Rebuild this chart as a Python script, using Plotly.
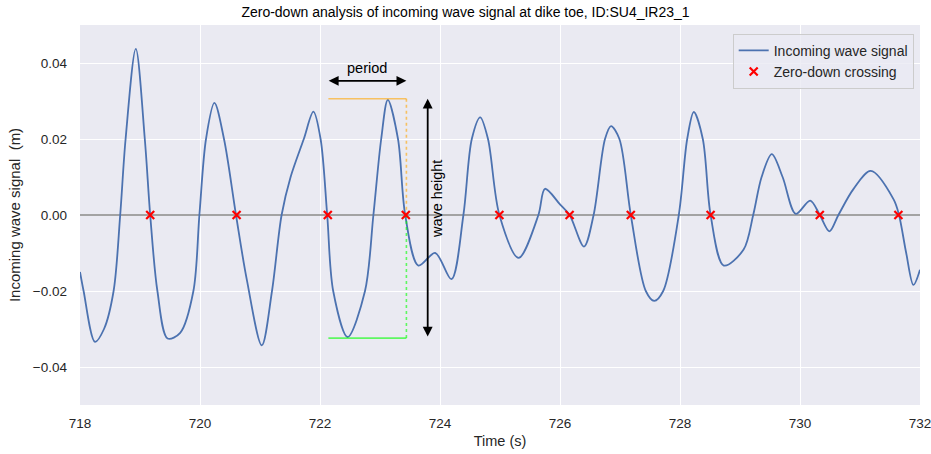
import plotly.graph_objects as go

# ---- data ----
time_s = [718.00, 718.06, 718.25, 718.40, 718.56, 718.67, 718.76, 718.93, 719.08, 719.17,
          719.29, 719.46, 719.67, 719.89, 719.99, 720.10, 720.24, 720.40, 720.60, 720.78,
          721.03, 721.20, 721.36, 721.51, 721.73, 721.89, 722.01, 722.12, 722.22,
          722.46, 722.75, 722.89, 723.02, 723.13, 723.30, 723.42, 723.64, 723.92, 724.19,
          724.39, 724.53, 724.67, 724.80, 724.99, 725.31, 725.64, 725.75, 726.00, 726.16,
          726.40, 726.56, 726.75, 726.85, 726.99, 727.18, 727.43, 727.57, 727.72, 727.98,
          728.12, 728.23, 728.38, 728.51, 728.73, 729.06, 729.22, 729.36, 729.53, 729.71,
          729.93, 730.17, 730.33, 730.49, 730.64, 730.89, 731.18, 731.56, 731.65, 731.77,
          731.89, 732.00]
signal_m = [-0.0150, -0.0200, -0.0334, -0.0300, -0.0200, 0.0000, 0.0200, 0.0437, 0.0200, 0.0000,
            -0.0200, -0.0325, -0.0310, -0.0200, 0.0000, 0.0200, 0.0295, 0.0200, 0.0000, -0.0170,
            -0.0343, -0.0200, 0.0000, 0.0100, 0.0200, 0.0272, 0.0200, 0.0000, -0.0200,
            -0.0321, -0.0200, 0.0000, 0.0200, 0.0303, 0.0200, 0.0000, -0.0133, -0.0100, -0.0169,
            0.0000, 0.0200, 0.0257, 0.0200, 0.0000, -0.0113, 0.0000, 0.0069, 0.0028, 0.0000,
            -0.0083, 0.0000, 0.0200, 0.0234, 0.0200, 0.0000, -0.0200, -0.0226, -0.0200, 0.0000,
            0.0200, 0.0271, 0.0200, 0.0000, -0.0133, -0.0091, 0.0000, 0.0100, 0.0160, 0.0100,
            0.0003, 0.0038, 0.0000, -0.0043, 0.0000, 0.0068, 0.0116, 0.0041, 0.0000, -0.0100,
            -0.0184, -0.0144]

crossing_t = [719.17, 720.61, 722.13, 723.43, 724.99, 726.16, 727.18, 728.51, 730.33, 731.64]
crossing_y = [0.0] * len(crossing_t)

# highlighted wave (between crossings 3 and 4)
wave_start = 722.14
wave_end = 723.44
wave_crest = 0.0306
wave_trough = -0.0324

x_ticks = [718, 720, 722, 724, 726, 728, 730, 732]
y_ticks = [-0.04, -0.02, 0.0, 0.02, 0.04]
x_range = [718, 732]
y_range = [-0.05, 0.05]

TXT = "#262626"
FONT = "Liberation Sans, Arial, sans-serif"
W, H = 931, 454

fig = go.Figure()

# zero line
fig.add_trace(go.Scatter(x=x_range, y=[0, 0], mode="lines",
                         line=dict(color="#A3A3A3", width=1.8),
                         showlegend=False, hoverinfo="skip"))

# signal
fig.add_trace(go.Scatter(x=time_s, y=signal_m, mode="lines", name="Incoming wave signal",
                         line=dict(color="#4C72B0", width=1.8, shape="spline", smoothing=0.9)))

# crest / trough guide lines
fig.add_trace(go.Scatter(x=[wave_start, wave_end], y=[wave_crest, wave_crest], mode="lines",
                         line=dict(color="rgba(255,165,0,0.6)", width=1.6),
                         showlegend=False, hoverinfo="skip"))
fig.add_trace(go.Scatter(x=[wave_start, wave_end], y=[wave_trough, wave_trough], mode="lines",
                         line=dict(color="rgba(0,255,0,0.6)", width=1.6),
                         showlegend=False, hoverinfo="skip"))
fig.add_trace(go.Scatter(x=[wave_end, wave_end], y=[wave_crest, 0], mode="lines",
                         line=dict(color="rgba(255,165,0,0.6)", width=1.6, dash="dot"),
                         showlegend=False, hoverinfo="skip"))
fig.add_trace(go.Scatter(x=[wave_end, wave_end], y=[0, wave_trough], mode="lines",
                         line=dict(color="rgba(0,255,0,0.6)", width=1.6, dash="dot"),
                         showlegend=False, hoverinfo="skip"))

# crossings
fig.add_trace(go.Scatter(x=crossing_t, y=crossing_y, mode="markers", name="Zero-down crossing",
                         marker=dict(symbol="x-thin", size=8, color="red",
                                     line=dict(color="red", width=2.2))))

# period arrow (double)
period_y = 0.0353
fig.add_annotation(x=wave_end, y=period_y, ax=wave_start - 0.02, ay=period_y,
                   xref="x", yref="y", axref="x", ayref="y", text="",
                   showarrow=True, arrowhead=2, arrowside="end+start",
                   arrowsize=1.1, arrowwidth=1.8, arrowcolor="black")
fig.add_annotation(x=(wave_start + wave_end) / 2, y=0.0388, xref="x", yref="y",
                   text="period", showarrow=False,
                   font=dict(family=FONT, size=14.5, color="black"))

# wave height arrow (double)
height_x = 723.795
fig.add_annotation(x=height_x, y=wave_crest, ax=height_x, ay=wave_trough,
                   xref="x", yref="y", axref="x", ayref="y", text="",
                   showarrow=True, arrowhead=2, arrowside="end+start",
                   arrowsize=1.1, arrowwidth=1.8, arrowcolor="black")
fig.add_annotation(x=723.96, y=0.0041, xref="x", yref="y", text="wave height",
                   showarrow=False, textangle=-90,
                   font=dict(family=FONT, size=14.5, color="black"))

fig.update_layout(
    width=W, height=H,
    margin=dict(l=80, r=11, t=25, b=49, autoexpand=False),
    paper_bgcolor="white", plot_bgcolor="#EAEAF2",
    font=dict(family=FONT, size=12, color=TXT),
    title=dict(text="Zero-down analysis of incoming wave signal at dike toe, ID:SU4_IR23_1",
               x=0.5, xanchor="center", xref="container", yref="container",
               y=1 - 12 / H, yanchor="middle", automargin=False,
               font=dict(family=FONT, size=14, color="black")),
    showlegend=True,
    legend=dict(x=0.9925, xanchor="right", y=0.977, yanchor="top",
                bgcolor="rgba(234,234,242,0.8)", bordercolor="#CCCCCC", borderwidth=1,
                font=dict(family=FONT, size=14, color=TXT),
                tracegroupgap=0, itemwidth=30),
)

fig.update_xaxes(range=x_range, tickvals=x_ticks, ticktext=[str(v) for v in x_ticks],
                 showgrid=True, gridcolor="white", gridwidth=1, zeroline=False,
                 showline=False, ticks="", ticklabelstandoff=8, automargin=False,
                 ticklabeloverflow="allow",
                 tickfont=dict(family=FONT, size=13.5, color=TXT),
                 title=dict(text="Time (s)", standoff=6,
                            font=dict(family=FONT, size=14.5, color=TXT)))
fig.update_yaxes(range=y_range, tickvals=y_ticks, tickformat=".2f",
                 showgrid=True, gridcolor="white", gridwidth=1, zeroline=False,
                 showline=False, ticks="", ticklabelstandoff=12, automargin=False,
                 tickfont=dict(family=FONT, size=13.5, color=TXT),
                 title=dict(text="Incoming wave signal  (m)", standoff=8,
                            font=dict(family=FONT, size=15, color=TXT)))

# remove the default page margin so the figure sits at the window's top-left corner
fig.write_html("out.html", config={"displayModeBar": False},
               post_script="document.body.style.margin='0';document.body.style.overflow='hidden';")
